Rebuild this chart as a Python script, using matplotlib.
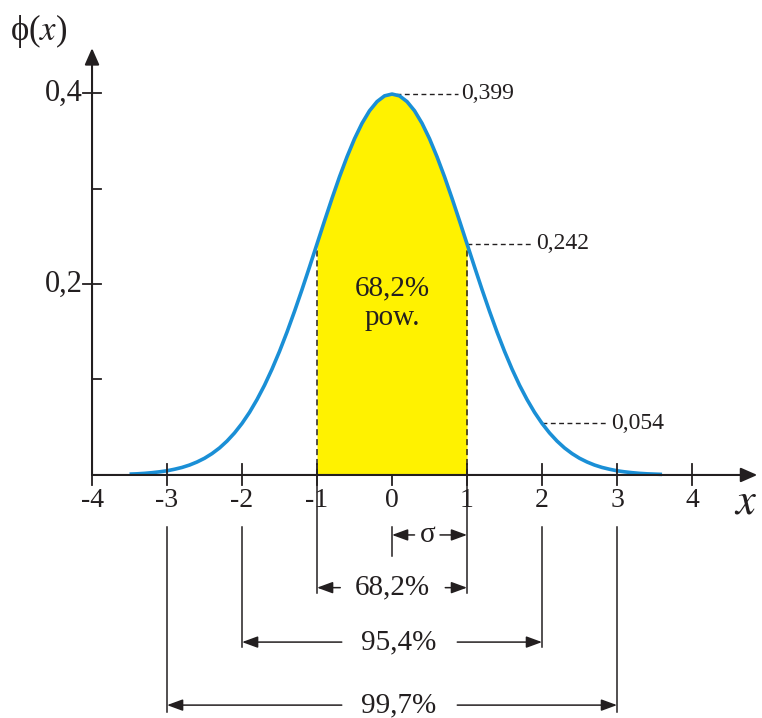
import numpy as np
import matplotlib.pyplot as plt

plt.rcParams['font.family'] = ['Liberation Serif', 'DejaVu Serif']
plt.rcParams['mathtext.fontset'] = 'stix'

# standard normal density, tabulated for x = 0.0 ... 3.6 (step 0.1)
half_x = [0.0, 0.1, 0.2, 0.3, 0.4, 0.5, 0.6, 0.7, 0.8, 0.9,
          1.0, 1.1, 1.2, 1.3, 1.4, 1.5, 1.6, 1.7, 1.8, 1.9,
          2.0, 2.1, 2.2, 2.3, 2.4, 2.5, 2.6, 2.7, 2.8, 2.9,
          3.0, 3.1, 3.2, 3.3, 3.4, 3.5, 3.6]
half_phi = [0.3989, 0.3970, 0.3910, 0.3814, 0.3683, 0.3521, 0.3332, 0.3123, 0.2897, 0.2661,
            0.2420, 0.2179, 0.1942, 0.1714, 0.1497, 0.1295, 0.1109, 0.0940, 0.0790, 0.0656,
            0.0540, 0.0440, 0.0355, 0.0283, 0.0224, 0.0175, 0.0136, 0.0104, 0.0079, 0.0060,
            0.0044, 0.0033, 0.0024, 0.0017, 0.0012, 0.0009, 0.0006]

# mirrored left half (down to -3.5) + right half
x_vals = np.array([-v for v in half_x[35:0:-1]] + half_x)
phi_vals = np.array(half_phi[35:0:-1] + half_phi)

x_ticks = [-4, -3, -2, -1, 0, 1, 2, 3, 4]
x_tick_labels = ['-4', '-3', '-2', '-1', '0', '1', '2', '3', '4']
y_major = [0.2, 0.4]
y_major_labels = ['0,2', '0,4']
y_minor = [0.1, 0.3]

mark_x = [0, 1, 2]
mark_phi = [0.399, 0.242, 0.054]
mark_labels = ['0,399', '0,242', '0,054']

band_sigma = [1, 2, 3]
band_labels = ['68,2%', '95,4%', '99,7%']

ink = '#231f20'
blue = '#1a8fd6'
yellow = '#fff200'

fig = plt.figure(figsize=(7.62, 7.18), dpi=100)
ax = fig.add_axes([0, 0, 1, 1])
ax.set_xlim(-5.227, 4.933)
ax.set_ylim(-0.2545, 0.4974)
ax.axis('off')

# shaded +-1 sigma area
inside = (x_vals >= -1) & (x_vals <= 1)
ax.fill_between(x_vals[inside], 0, phi_vals[inside], color=yellow, lw=0, zorder=1)
for s in (-1, 1):
    ax.plot([s, s], [0, half_phi[10]], color=ink, lw=1.1, ls=(0, (4, 2.5)), zorder=2)

ax.plot(x_vals, phi_vals, color=blue, lw=2.6, zorder=3, solid_capstyle='butt')

# axes with arrow heads
head = dict(arrowstyle='-|>,head_length=0.5,head_width=0.22', color=ink, lw=1.5,
            mutation_scale=20, shrinkA=0, shrinkB=0)
ax.annotate('', xy=(4.87, 0), xytext=(-4, 0), arrowprops=head, zorder=4)
ax.annotate('', xy=(-4, 0.447), xytext=(-4, 0), arrowprops=head, zorder=4)

tick_h = 0.011
for xt, lab in zip(x_ticks, x_tick_labels):
    top = 0 if xt == 0 else tick_h
    ax.plot([xt, xt], [-tick_h, top], color=ink, lw=1.3, zorder=4)
    ax.text(xt, -0.027, lab, ha='center', va='center', fontsize=20, color=ink)

tick_w = 0.12
for yt, lab in zip(y_major, y_major_labels):
    ax.plot([-4 - tick_w, -4 + tick_w], [yt, yt], color=ink, lw=1.3)
    ax.text(-4.13, yt, lab, ha='right', va='center', fontsize=22, color=ink)
for yt in y_minor:
    ax.plot([-4, -4 + tick_w], [yt, yt], color=ink, lw=1.3)

ax.text(-5.1, 0.465, '\u03d5($x$)', fontsize=25, color=ink, ha='left', va='center')
ax.text(4.72, -0.029, r'$x$', fontsize=32, color=ink, ha='center', va='center')

# value leaders
for mx, mp, lab in zip(mark_x, mark_phi, mark_labels):
    x0 = mx + 0.05 if mx == 0 else mx
    ax.plot([x0, mx + 0.88], [mp, mp], color=ink, lw=1.0, ls=(0, (3.5, 2.5)))
    ax.text(mx + 0.92, mp, lab, ha='left', va='center', fontsize=17, color=ink)

ax.text(0, 0.18, '68,2%\npow.', ha='center', va='center', fontsize=21,
        color=ink, linespacing=1.2, zorder=4)

# interval brackets under the axis
thin = 1.1
small = dict(arrowstyle='-|>,head_length=0.6,head_width=0.22', color=ink, lw=thin,
             mutation_scale=16, shrinkA=0, shrinkB=0)

ax.plot([0, 0], [-0.055, -0.085], color=ink, lw=thin)
ax.annotate('', xy=(0, -0.0628), xytext=(0.3, -0.0628), arrowprops=small)
ax.annotate('', xy=(1, -0.0628), xytext=(0.64, -0.0628), arrowprops=small)
ax.text(0.47, -0.0628, '\u03c3', ha='center', va='center', fontsize=21, color=ink)

band_y = [-0.118, -0.175, -0.241]
band_bottom = [-0.1236, -0.18, -0.248]
band_top = [0, -0.055, -0.055]
gap_left = [-0.69, -0.67, -0.67]
gap_right = [0.71, 0.87, 0.87]
text_x = [0.0, 0.09, 0.09]
for s, lab, yy, yb, yt, gl, gr, tx in zip(band_sigma, band_labels, band_y, band_bottom,
                                           band_top, gap_left, gap_right, text_x):
    for side in (-s, s):
        ax.plot([side, side], [yt, yb], color=ink, lw=thin)
    ax.annotate('', xy=(-s, yy), xytext=(gl, yy), arrowprops=small)
    ax.annotate('', xy=(s, yy), xytext=(gr, yy), arrowprops=small)
    ax.text(tx, yy, lab, ha='center', va='center', fontsize=21, color=ink)

fig.savefig('out.png', dpi=100)
